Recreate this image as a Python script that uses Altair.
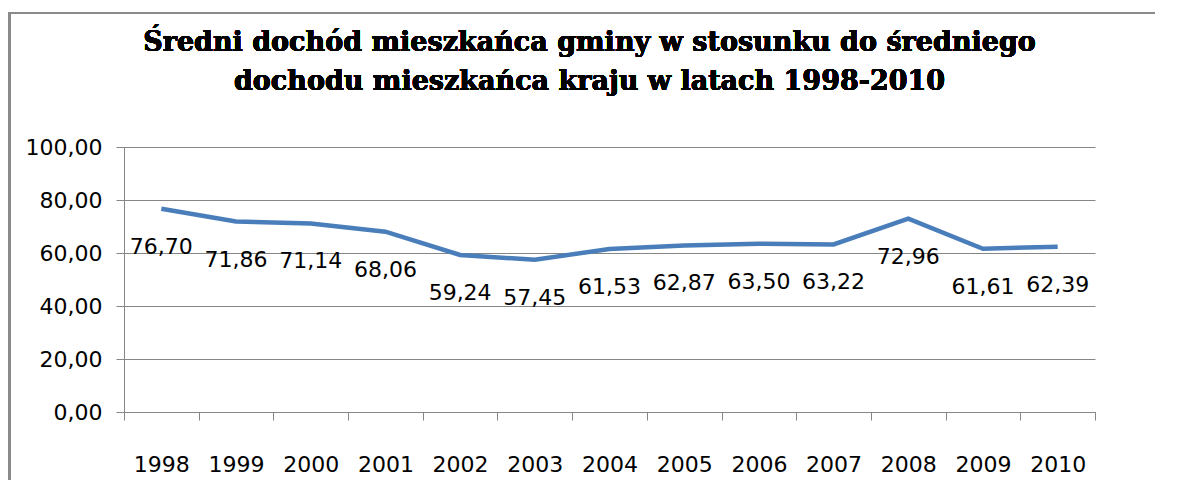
import altair as alt
import pandas as pd

years = ["1998", "1999", "2000", "2001", "2002", "2003", "2004",
         "2005", "2006", "2007", "2008", "2009", "2010"]
values = [76.70, 71.86, 71.14, 68.06, 59.24, 57.45, 61.53,
          62.87, 63.50, 63.22, 72.96, 61.61, 62.39]
title_lines = ["Średni dochód mieszkańca gminy w stosunku do średniego",
               "dochodu mieszkańca kraju w latach 1998-2010"]
y_ticks = [0, 20, 40, 60, 80, 100]

df = pd.DataFrame({"rok": years, "wartosc": values})

W, H = 971, 265
AXIS_FONT = "DejaVu Sans"
GRID = "#868686"
LINE = "#4a7ebb"

x_enc = alt.X("rok:N", sort=years,
              scale=alt.Scale(paddingInner=0, paddingOuter=0),
              axis=alt.Axis(title=None, labelAngle=0, tickBand="extent",
                            labelFont=AXIS_FONT, labelFontSize=22, labelColor="#000000",
                            labelPadding=34, tickSize=8, tickColor=GRID,
                            domainColor=GRID, grid=False))
y_enc = alt.Y("wartosc:Q",
              scale=alt.Scale(domain=[0, 100], nice=False),
              axis=alt.Axis(title=None, values=y_ticks,
                            labelExpr="replace(format(datum.value, '.2f'), '.', ',')",
                            labelFont=AXIS_FONT, labelFontSize=22, labelColor="#000000",
                            labelPadding=14, tickSize=8, tickColor=GRID,
                            domainColor=GRID, gridColor=GRID, gridOpacity=1))

base = alt.Chart(df)

line = base.mark_line(color=LINE, strokeWidth=4.5).encode(x=x_enc, y=y_enc)

labels = base.transform_calculate(
    lab="replace(format(datum.wartosc, '.2f'), '.', ',')"
).mark_text(font=AXIS_FONT, fontSize=22, color="#000000", dy=38,
            baseline="middle", align="center").encode(
    x=alt.X("rok:N", sort=years), y="wartosc:Q", text="lab:N")

title = base.mark_text(text=title_lines, font="DejaVu Serif", fontSize=27,
                       fontWeight="bold", color="#000000", align="center",
                       baseline="alphabetic", lineHeight=39).encode(
    x=alt.value(W / 2 - 20), y=alt.value(-96))

frame_top = base.mark_rule(color="#8a8a8a", strokeWidth=2).encode(
    x=alt.value(-116), x2=alt.value(W + 60), y=alt.value(-134))
frame_left = base.mark_rule(color="#8a8a8a", strokeWidth=3).encode(
    x=alt.value(-115), y=alt.value(-134), y2=alt.value(H + 68))

chart = alt.layer(line, labels, title, frame_top, frame_left).properties(
    width=W, height=H,
    autosize=alt.AutoSizeParams(type="none"),
    padding={"left": 116, "top": 139, "right": 60, "bottom": 68},
).configure_view(stroke=None).configure_axis(domainWidth=1, gridWidth=1, tickWidth=1)

chart.save("out.html", embed_options={"renderer": "svg", "actions": False})
